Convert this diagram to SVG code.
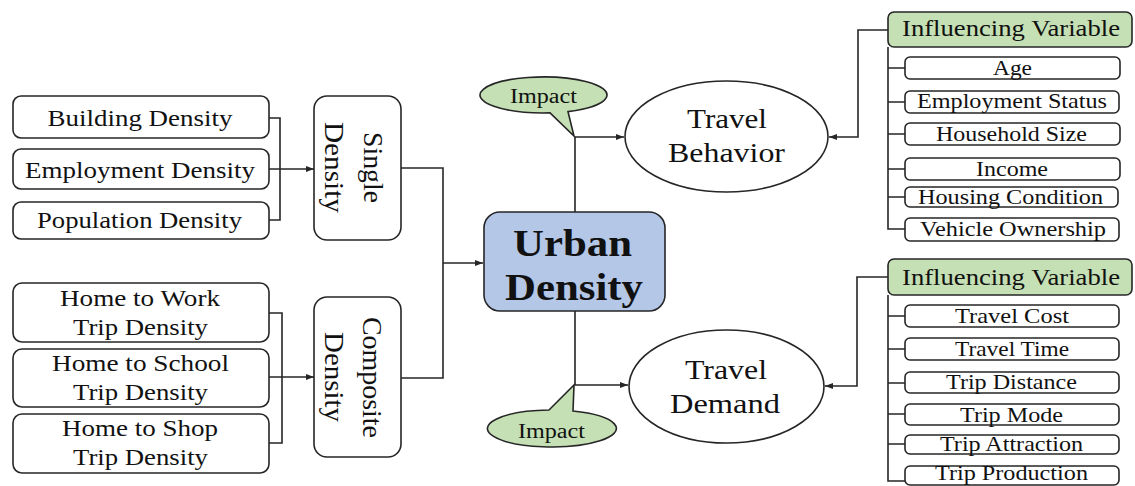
<svg xmlns="http://www.w3.org/2000/svg" width="1135" height="486" viewBox="0 0 1135 486">
<style>
.box{fill:#fff;stroke:#262626;stroke-width:1.6}
.gr{fill:#c5e0b4;stroke:#262626;stroke-width:1.6}
.bl{fill:#b4c7e7;stroke:#262626;stroke-width:1.6}
.ln{fill:none;stroke:#262626;stroke-width:1.6}
.t{font-family:"Liberation Serif","Times New Roman",serif;fill:#111;text-anchor:middle}
.l{font-size:24px}
.r{font-size:21px}
.v{font-size:27px}
.e{font-size:27px}
.i{font-size:20px}
.u{font-size:38px;font-weight:bold}
</style>
<defs>
<marker id="ah" markerWidth="8" markerHeight="6" refX="8" refY="3" orient="auto" markerUnits="userSpaceOnUse"><path d="M0,0 L8,3 L0,6 z" fill="#262626"/></marker>
</defs>
<rect width="1135" height="486" fill="#fff"/>

<g id="connectors">
<path class="ln" d="M269,118 H280 V220 H269"/>
<path class="ln" d="M269,169 H314" marker-end="url(#ah)"/>
<path class="ln" d="M269,313 H282 V443 H269"/>
<path class="ln" d="M269,377 H314" marker-end="url(#ah)"/>
<path class="ln" d="M401,168 H443 V378 H401"/>
<path class="ln" d="M443,263 H483" marker-end="url(#ah)"/>
<path class="ln" d="M575,212 V137 H624" marker-end="url(#ah)"/>
<path class="ln" d="M575,311 V385 H628" marker-end="url(#ah)"/>
<path class="ln" d="M888,30 H858 V137 H829" marker-end="url(#ah)"/>
<path class="ln" d="M888,277 H857 V386 H825" marker-end="url(#ah)"/>
<path class="ln" d="M888,47 V229 H905 M888,68 H905 M888,102 H905 M888,134 H905 M888,169 H905 M888,197 H905"/>
<path class="ln" d="M888,295 V481 H905 M888,316 H905 M888,349 H905 M888,383 H905 M888,414 H905 M888,444 H905"/>
</g>

<g id="building-density"><rect class="box" x="13" y="96" width="256" height="42" rx="8"/><text class="t l" x="140" y="126" textLength="185" lengthAdjust="spacingAndGlyphs">Building Density</text></g>
<g id="employment-density"><rect class="box" x="13" y="149" width="256" height="40" rx="8"/><text class="t l" x="140" y="178" textLength="230" lengthAdjust="spacingAndGlyphs">Employment Density</text></g>
<g id="population-density"><rect class="box" x="13" y="202" width="256" height="37" rx="8"/><text class="t l" x="139.5" y="228" textLength="205" lengthAdjust="spacingAndGlyphs">Population Density</text></g>

<g id="home-work"><rect class="box" x="13" y="283" width="256" height="59" rx="9"/><text class="t l" x="140" y="306" textLength="160" lengthAdjust="spacingAndGlyphs">Home to Work</text><text class="t l" x="140.5" y="335" textLength="135" lengthAdjust="spacingAndGlyphs">Trip Density</text></g>
<g id="home-school"><rect class="box" x="13" y="349" width="256" height="58" rx="9"/><text class="t l" x="140.5" y="371" textLength="177" lengthAdjust="spacingAndGlyphs">Home to School</text><text class="t l" x="140.5" y="400" textLength="135" lengthAdjust="spacingAndGlyphs">Trip Density</text></g>
<g id="home-shop"><rect class="box" x="13" y="414" width="256" height="59" rx="9"/><text class="t l" x="140" y="436" textLength="156" lengthAdjust="spacingAndGlyphs">Home to Shop</text><text class="t l" x="140.5" y="465" textLength="135" lengthAdjust="spacingAndGlyphs">Trip Density</text></g>

<g id="single-density"><rect class="box" x="314" y="96" width="87" height="144" rx="13"/>
<text class="t v" transform="translate(364,167.5) rotate(90)" textLength="71" lengthAdjust="spacingAndGlyphs">Single</text>
<text class="t v" transform="translate(325,167.5) rotate(90)" textLength="91" lengthAdjust="spacingAndGlyphs">Density</text></g>
<g id="composite-density"><rect class="box" x="314" y="297" width="87" height="160" rx="13"/>
<text class="t v" transform="translate(363,377.5) rotate(90)" textLength="121" lengthAdjust="spacingAndGlyphs">Composite</text>
<text class="t v" transform="translate(325,377) rotate(90)" textLength="90" lengthAdjust="spacingAndGlyphs">Density</text></g>

<g id="urban-density"><rect class="bl" x="484" y="212" width="181" height="99" rx="16"/>
<text class="t u" x="572.5" y="256" textLength="119" lengthAdjust="spacingAndGlyphs">Urban</text>
<text class="t u" x="574" y="300" textLength="138" lengthAdjust="spacingAndGlyphs">Density</text></g>

<g id="impact-top"><path class="gr" d="M550,112.9 L574,136 L568,111.6 A63.5,18 0 1 0 550,112.9 Z"/><text class="t i" x="543.5" y="103" textLength="67" lengthAdjust="spacingAndGlyphs">Impact</text></g>
<g id="impact-bottom"><path class="gr" d="M549,410 L574,385 L573,411 A64.5,18.5 0 1 1 549,410 Z"/><text class="t i" x="551.5" y="438" textLength="67" lengthAdjust="spacingAndGlyphs">Impact</text></g>

<g id="travel-behavior"><ellipse class="box" cx="726.5" cy="136.5" rx="101.5" ry="55.5"/>
<text class="t e" x="727" y="128" textLength="80" lengthAdjust="spacingAndGlyphs">Travel</text>
<text class="t e" x="726.5" y="162" textLength="117" lengthAdjust="spacingAndGlyphs">Behavior</text></g>
<g id="travel-demand"><ellipse class="box" cx="726.5" cy="386.5" rx="97.5" ry="56.5"/>
<text class="t e" x="726" y="379" textLength="82" lengthAdjust="spacingAndGlyphs">Travel</text>
<text class="t e" x="725" y="413" textLength="110" lengthAdjust="spacingAndGlyphs">Demand</text></g>

<g id="influencing-variable-1"><rect class="gr" x="888" y="12" width="244" height="35" rx="6"/><text class="t" style="font-size:23px" x="1011" y="36" textLength="218" lengthAdjust="spacingAndGlyphs">Influencing Variable</text></g>
<g id="age"><rect class="box" x="905" y="57" width="215" height="22" rx="5"/><text class="t r" x="1012.5" y="75" textLength="39" lengthAdjust="spacingAndGlyphs">Age</text></g>
<g id="employment-status"><rect class="box" x="905" y="91" width="214" height="22" rx="5"/><text class="t r" x="1012" y="108" textLength="190" lengthAdjust="spacingAndGlyphs">Employment Status</text></g>
<g id="household-size"><rect class="box" x="905" y="123" width="215" height="22" rx="5"/><text class="t r" x="1011.5" y="141" textLength="151" lengthAdjust="spacingAndGlyphs">Household Size</text></g>
<g id="income"><rect class="box" x="905" y="158" width="215" height="22" rx="5"/><text class="t r" x="1012" y="176" textLength="72" lengthAdjust="spacingAndGlyphs">Income</text></g>
<g id="housing-condition"><rect class="box" x="905" y="187" width="213" height="20" rx="5"/><text class="t r" x="1010.5" y="204" textLength="185" lengthAdjust="spacingAndGlyphs">Housing Condition</text></g>
<g id="vehicle-ownership"><rect class="box" x="905" y="218" width="214" height="23" rx="5"/><text class="t r" x="1013" y="236" textLength="186" lengthAdjust="spacingAndGlyphs">Vehicle Ownership</text></g>

<g id="influencing-variable-2"><rect class="gr" x="888" y="259" width="244" height="36" rx="6"/><text class="t" style="font-size:23px" x="1011" y="285" textLength="218" lengthAdjust="spacingAndGlyphs">Influencing Variable</text></g>
<g id="travel-cost"><rect class="box" x="905" y="305" width="214" height="22" rx="5"/><text class="t r" x="1012" y="323" textLength="114" lengthAdjust="spacingAndGlyphs">Travel Cost</text></g>
<g id="travel-time"><rect class="box" x="905" y="338" width="214" height="22" rx="5"/><text class="t r" x="1012" y="356" textLength="114" lengthAdjust="spacingAndGlyphs">Travel Time</text></g>
<g id="trip-distance"><rect class="box" x="905" y="372" width="214" height="21" rx="5"/><text class="t r" x="1011.5" y="389" textLength="131" lengthAdjust="spacingAndGlyphs">Trip Distance</text></g>
<g id="trip-mode"><rect class="box" x="905" y="404" width="214" height="21" rx="5"/><text class="t r" x="1011.5" y="422" textLength="103" lengthAdjust="spacingAndGlyphs">Trip Mode</text></g>
<g id="trip-attraction"><rect class="box" x="905" y="435" width="214" height="19" rx="5"/><text class="t r" x="1011.5" y="451" textLength="143" lengthAdjust="spacingAndGlyphs">Trip Attraction</text></g>
<g id="trip-production"><rect class="box" x="905" y="466" width="214" height="19" rx="5"/><text class="t" style="font-size:20px" x="1011.5" y="480" textLength="153" lengthAdjust="spacingAndGlyphs">Trip Production</text></g>
</svg>
